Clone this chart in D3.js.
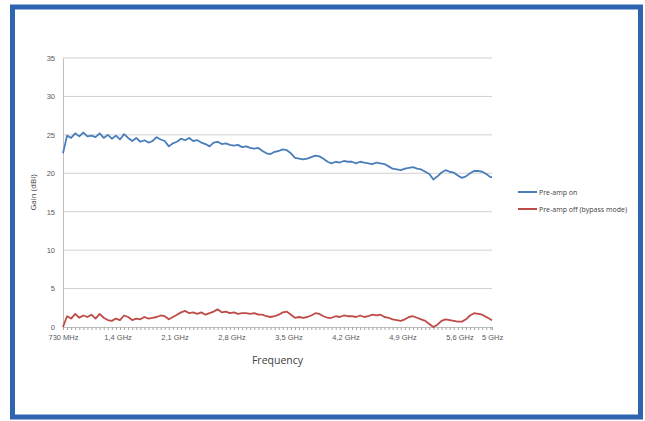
<!DOCTYPE html>
<html>
<head>
<meta charset="utf-8">
<script src="https://cdn.jsdelivr.net/npm/d3@7"></script>
<style>
  body { margin: 0; background: #fff; }
  svg { display: block; font-family: "Open Sans", sans-serif; }
</style>
</head>
<body>
<div id="chart"></div>
<script>
// Frequency sweep (GHz)
const freqs = [
  0.73, 0.78, 0.83, 0.88, 0.93, 0.98, 1.03, 1.08, 1.13, 1.18,
  1.23, 1.28, 1.33, 1.38, 1.43, 1.48, 1.53, 1.58, 1.63, 1.68,
  1.73, 1.78, 1.83, 1.88, 1.93, 1.98, 2.03, 2.08, 2.13, 2.18,
  2.23, 2.28, 2.33, 2.38, 2.43, 2.48, 2.53, 2.58, 2.63, 2.68,
  2.73, 2.78, 2.83, 2.88, 2.93, 2.98, 3.03, 3.08, 3.13, 3.18,
  3.23, 3.28, 3.33, 3.38, 3.43, 3.48, 3.53, 3.58, 3.63, 3.68,
  3.73, 3.78, 3.83, 3.88, 3.93, 3.98, 4.03, 4.08, 4.13, 4.18,
  4.23, 4.28, 4.33, 4.38, 4.43, 4.48, 4.53, 4.58, 4.63, 4.68,
  4.73, 4.78, 4.83, 4.88, 4.93, 4.98, 5.03, 5.08, 5.13, 5.18,
  5.23, 5.28, 5.33, 5.38, 5.43, 5.48, 5.53, 5.58, 5.63, 5.68,
  5.73, 5.78, 5.83, 5.88, 5.93, 5.98, 6.00
];

// Gain (dBi), pre-amp on
const gainOn = [
  22.6, 24.9, 24.6, 25.2, 24.8, 25.3, 24.8, 24.9, 24.7, 25.2,
  24.6, 25.0, 24.5, 24.9, 24.4, 25.1, 24.6, 24.2, 24.6, 24.1,
  24.3, 24.0, 24.2, 24.7, 24.4, 24.2, 23.5, 23.9, 24.1, 24.5,
  24.3, 24.6, 24.2, 24.3, 24.0, 23.8, 23.5, 24.0, 24.1, 23.8,
  23.9, 23.7, 23.6, 23.7, 23.4, 23.5, 23.3, 23.2, 23.3, 22.9,
  22.6, 22.5, 22.8, 22.9, 23.1, 23.0, 22.6, 22.0, 21.9, 21.8,
  21.9, 22.1, 22.3, 22.2, 21.9, 21.5, 21.3, 21.5, 21.4, 21.6,
  21.5, 21.5, 21.3, 21.5, 21.4, 21.3, 21.2, 21.4, 21.3, 21.2,
  20.9, 20.6, 20.5, 20.4, 20.6, 20.7, 20.8, 20.6, 20.5, 20.2,
  19.9, 19.2, 19.6, 20.1, 20.4, 20.2, 20.1, 19.7, 19.4, 19.6,
  20.0, 20.3, 20.3, 20.2, 19.9, 19.5, 19.5
];

// Gain (dBi), pre-amp off (bypass mode)
const gainOff = [
  0.0, 1.4, 1.1, 1.7, 1.2, 1.5, 1.3, 1.6, 1.1, 1.7,
  1.2, 0.9, 0.8, 1.1, 0.9, 1.5, 1.3, 0.9, 1.1, 1.0,
  1.3, 1.1, 1.2, 1.3, 1.5, 1.4, 1.0, 1.3, 1.6, 1.9,
  2.1, 1.8, 1.9, 1.7, 1.9, 1.6, 1.8, 2.0, 2.3, 1.9,
  2.0, 1.8, 1.9, 1.7, 1.8, 1.8, 1.7, 1.8, 1.6, 1.6,
  1.4, 1.3, 1.4, 1.6, 1.9, 2.0, 1.6, 1.2, 1.3, 1.2,
  1.3, 1.5, 1.8, 1.7, 1.4, 1.2, 1.2, 1.4, 1.3, 1.5,
  1.4, 1.4, 1.3, 1.5, 1.3, 1.4, 1.6, 1.5, 1.6, 1.3,
  1.2, 1.0, 0.9, 0.8, 1.0, 1.3, 1.4, 1.2, 1.0, 0.8,
  0.4, 0.0, 0.3, 0.8, 1.0, 0.9, 0.8, 0.7, 0.7, 1.0,
  1.5, 1.8, 1.7, 1.6, 1.3, 1.0, 0.9
];

const xTickValues = [0.73, 1.4, 2.1, 2.8, 3.5, 4.2, 4.9, 5.6, 6.0];
const xTickLabels = ['730 MHz', '1,4 GHz', '2,1 GHz', '2,8 GHz', '3,5 GHz', '4,2 GHz', '4,9 GHz', '5,6 GHz', '5 GHz'];
const yTickValues = [0, 5, 10, 15, 20, 25, 30, 35];

const seriesNames = ['Pre-amp on', 'Pre-amp off (bypass mode)'];
const seriesColors = ['#4a7ebb', '#be4b48'];

const W = 645, H = 421;
const margin = { top: 58, right: 153, bottom: 94, left: 63 };
const width = W - margin.left - margin.right;
const height = H - margin.top - margin.bottom;

const svg = d3.select('#chart').append('svg')
  .attr('width', W)
  .attr('height', H);

// blue frame round the picture
svg.append('rect')
  .attr('x', 12.5).attr('y', 7)
  .attr('width', 628).attr('height', 410)
  .attr('fill', '#fff')
  .attr('stroke', '#2f64b0')
  .attr('stroke-width', 5);

const g = svg.append('g')
  .attr('transform', `translate(${margin.left},${margin.top})`);

const x = d3.scaleLinear().domain([0.73, 6.0]).range([0, width]);
const y = d3.scaleLinear().domain([0, 35]).range([height, 0]);

// gridlines
g.selectAll('.grid')
  .data(yTickValues.filter(d => d > 0))
  .enter().append('line')
  .attr('x1', 0).attr('x2', width)
  .attr('y1', d => y(d)).attr('y2', d => y(d))
  .attr('stroke', '#d0d0d0')
  .attr('stroke-width', 1);

// y axis
const yAxis = g.append('g')
  .call(d3.axisLeft(y).tickValues(yTickValues).tickSize(0).tickPadding(8));
yAxis.select('.domain').attr('stroke', '#bfbfbf');
yAxis.selectAll('text').attr('fill', '#595959').style('font-size', '7.5px');

// x axis: small tick at every sample, labels at chosen frequencies
const xMinor = g.append('g')
  .attr('transform', `translate(0,${height})`)
  .call(d3.axisBottom(x).tickValues(freqs).tickSize(3).tickFormat(''));
xMinor.select('.domain').attr('stroke', '#bfbfbf');
xMinor.selectAll('.tick line').attr('stroke', '#a6a6a6');

const xAxis = g.append('g')
  .attr('transform', `translate(0,${height})`)
  .call(d3.axisBottom(x).tickValues(xTickValues).tickSize(0).tickPadding(8)
    .tickFormat((d, i) => xTickLabels[i]));
xAxis.select('.domain').remove();
xAxis.selectAll('text').attr('fill', '#595959').style('font-size', '7.5px');

// lines
const line = d3.line()
  .x((d, i) => x(freqs[i]))
  .y(d => y(d));

[gainOn, gainOff].forEach((s, k) => {
  g.append('path')
    .datum(s)
    .attr('d', line)
    .attr('fill', 'none')
    .attr('stroke', seriesColors[k])
    .attr('stroke-width', 1.8)
    .attr('stroke-linejoin', 'round');
});

// axis titles
svg.append('text')
  .attr('x', margin.left + width / 2)
  .attr('y', 364)
  .attr('text-anchor', 'middle')
  .attr('fill', '#404040')
  .style('font-size', '10.5px')
  .text('Frequency');

svg.append('text')
  .attr('transform', `translate(36,${margin.top + height / 2}) rotate(-90)`)
  .attr('text-anchor', 'middle')
  .attr('fill', '#404040')
  .style('font-size', '8px')
  .text('Gain (dBi)');

// legend
const legend = svg.append('g').attr('transform', 'translate(518,192)');
seriesNames.forEach((name, k) => {
  const row = legend.append('g').attr('transform', `translate(0,${k * 17})`);
  row.append('line')
    .attr('x1', 0).attr('x2', 19)
    .attr('stroke', seriesColors[k])
    .attr('stroke-width', 2);
  row.append('text')
    .attr('x', 21).attr('y', 2.5)
    .attr('fill', '#404040')
    .style('font-size', '7px')
    .text(name);
});
</script>
</body>
</html>
